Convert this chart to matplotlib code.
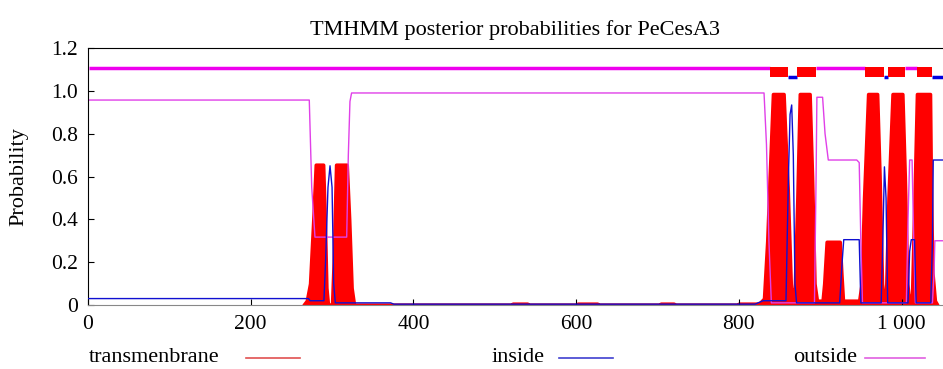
import matplotlib
matplotlib.use("Agg")
import matplotlib.pyplot as plt
from matplotlib.lines import Line2D

plt.rcParams['font.family'] = ['Liberation Serif', 'DejaVu Serif']

# posterior probability curves (residue, probability)
tm_x = [265, 269, 273, 277, 280, 289, 291, 293, 295, 300, 302, 305, 318, 321, 324, 327,
        520, 522, 540, 542, 600, 602, 626, 628, 702, 704, 720, 722,
        798, 800, 822, 826, 831, 835, 838, 842, 855, 857, 860, 864, 868,
        869, 872, 875, 887, 890, 893, 896,
        903, 905, 908, 924, 926, 928, 948,
        951, 954, 959, 970, 973, 976, 978,
        981, 984, 989, 1001, 1004, 1007, 1009,
        1013, 1016, 1019, 1035, 1036, 1037, 1038, 1041, 1044]
tm_p = [0.0, 0.02, 0.1, 0.4, 0.655, 0.655, 0.4, 0.08, 0.0, 0.0, 0.2, 0.655, 0.655, 0.4, 0.08, 0.0,
        0.0, 0.006, 0.006, 0.0, 0.0, 0.006, 0.006, 0.0, 0.0, 0.006, 0.006, 0.0,
        0.0, 0.006, 0.006, 0.01, 0.03, 0.3, 0.6, 0.985, 0.985, 0.8, 0.55, 0.08, 0.05,
        0.1, 0.5, 0.985, 0.985, 0.6, 0.1, 0.02,
        0.02, 0.1, 0.295, 0.295, 0.15, 0.02, 0.02,
        0.1, 0.5, 0.985, 0.985, 0.6, 0.1, 0.03,
        0.05, 0.5, 0.985, 0.985, 0.6, 0.1, 0.03,
        0.05, 0.5, 0.985, 0.985, 0.6, 0.35, 0.15, 0.02, 0.0]

in_x = [0, 271, 273, 290, 292, 295, 297.5, 300, 302, 304, 372, 376, 820, 830, 858,
        861, 863, 865, 867, 869, 871, 924, 927, 929, 948, 950, 975,
        977, 979, 981, 983, 1008, 1010, 1012, 1016, 1018, 1036, 1038, 1039, 1051]
in_p = [0.03, 0.03, 0.02, 0.02, 0.2, 0.55, 0.65, 0.55, 0.1, 0.01, 0.01, 0.004, 0.004, 0.02, 0.02,
        0.6, 0.89, 0.934, 0.7, 0.1, 0.01, 0.01, 0.2, 0.305, 0.305, 0.01, 0.01,
        0.3, 0.645, 0.5, 0.01, 0.01, 0.25, 0.305, 0.305, 0.01, 0.01, 0.3, 0.677, 0.677]

out_x = [0, 272, 275, 279, 318, 320, 322, 324, 831, 834, 837, 840,
         893, 895, 896, 903, 906, 910, 945, 948, 950, 952,
         1006, 1008, 1010, 1013, 1015, 1017, 1038, 1040, 1041, 1051]
out_p = [0.957, 0.957, 0.55, 0.317, 0.317, 0.7, 0.95, 0.99, 0.99, 0.75, 0.3, 0.01,
         0.01, 0.6, 0.97, 0.97, 0.8, 0.677, 0.677, 0.665, 0.3, 0.01,
         0.01, 0.4, 0.677, 0.677, 0.3, 0.01, 0.01, 0.15, 0.30, 0.30]

# predicted topology drawn above the curves
topo_start = [1, 838, 860, 872, 895, 955, 978, 983, 1004, 1019, 1037]
topo_end = [838, 860, 872, 895, 955, 978, 983, 1004, 1019, 1037, 1051]
topo_type = ['out', 'tm', 'in', 'tm', 'out', 'tm', 'in', 'tm', 'out', 'tm', 'in']

x_ticks = [0, 200, 400, 600, 800, 1000]
x_labels = ['0', '200', '400', '600', '800', '1 000']
y_ticks = [0, 0.2, 0.4, 0.6, 0.8, 1.0, 1.2]
y_labels = ['0', '0.2', '0.4', '0.6', '0.8', '1.0', '1.2']

fig = plt.figure(figsize=(9.43, 3.69), dpi=100)
ax = fig.add_axes([88 / 943, 1 - 305 / 369, (943 - 88) / 943, (305 - 48) / 369])

# thick edge mimics the impulse style of the original plot
ax.fill_between(tm_x, 0, tm_p, facecolor='#ff0000', edgecolor='#ff0000', lw=2.6, zorder=1)
ax.plot(in_x, in_p, color='#1010d0', lw=1.0, zorder=3)
ax.plot(out_x, out_p, color='#e040e8', lw=1.0, zorder=2)

for s, e, t in zip(topo_start, topo_end, topo_type):
    if t == 'out':
        ax.plot([s, e], [1.108, 1.108], color='#ee00ee', lw=2.5, solid_capstyle='butt', zorder=4)
    elif t == 'in':
        ax.plot([s, e], [1.066, 1.066], color='#0000e0', lw=2.5, solid_capstyle='butt', zorder=4)
    else:
        ax.fill_between([s, e], 1.063, 1.113, color='#ff0000', lw=0, zorder=5)

ax.set_xlim(0, 1051)
ax.set_ylim(0, 1.2)
ax.set_xticks(x_ticks)
ax.set_xticklabels(x_labels)
ax.set_yticks(y_ticks)
ax.set_yticklabels(y_labels)
ax.tick_params(direction='in', length=4, labelsize=15.5, pad=7)
ax.spines['right'].set_visible(False)
ax.spines['bottom'].set_color('#888888')
ax.set_ylabel('Probability', fontsize=16)
ax.yaxis.set_label_coords((28 - 88) / 855, 0.5)
ax.set_title('TMHMM posterior probabilities for PeCesA3', fontsize=16, pad=9)

# legend row under the axis
legend_y = 1 - 358 / 369
items = [('transmenbrane', 89, 246, 300, '#e05050'),
         ('inside', 492, 559, 613, '#4040d0'),
         ('outside', 793, 865, 925, '#e060e0')]
for label, tx, l0, l1, col in items:
    fig.text(tx / 943, legend_y, label, fontsize=16, va='center', ha='left')
    fig.add_artist(Line2D([l0 / 943, l1 / 943], [legend_y, legend_y], color=col, lw=1.2,
                          transform=fig.transFigure))

fig.savefig('out.png', dpi=100)
